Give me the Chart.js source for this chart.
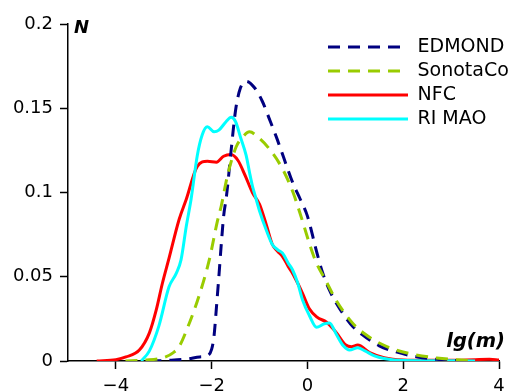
<!DOCTYPE html>
<html>
<head>
<meta charset="utf-8">
<script src="https://cdn.jsdelivr.net/npm/chart.js@4.4.0/dist/chart.umd.min.js"></script>
<style>
  html, body { margin: 0; padding: 0; background: #fff; }
  #wrap { width: 516px; height: 392px; }
</style>
</head>
<body>
<div id="wrap"><canvas id="chart" width="516" height="392"></canvas></div>
<script>
// series (x = lg(m), y = N)
const seriesNames = ['EDMOND', 'SonotaCo', 'NFC', 'RI MAO'];

const edmondX = [-3.3, -2.9, -2.5, -2.25, -2.1, -2.0, -1.95, -1.9, -1.85, -1.8, -1.75, -1.69, -1.59, -1.5, -1.4, -1.28, -1.1, -0.94, -0.8, -0.65, -0.5, -0.31, -0.15, 0.0, 0.19, 0.31, 0.46, 0.6, 0.9, 1.15, 1.5, 1.85, 2.3, 2.7, 3.3];
const edmondY = [0, 0.0004, 0.0012, 0.0024, 0.003, 0.007, 0.015, 0.032, 0.05, 0.069, 0.086, 0.098, 0.126, 0.149, 0.162, 0.166, 0.162, 0.154, 0.144, 0.133, 0.121, 0.106, 0.096, 0.086, 0.065, 0.053, 0.042, 0.0345, 0.022, 0.0155, 0.009, 0.0054, 0.0024, 0.001, 0];

const sonotaX = [-3.8, -3.4, -3.0, -2.8, -2.68, -2.5, -2.26, -2.05, -1.88, -1.8, -1.67, -1.49, -1.35, -1.21, -1.0, -0.8, -0.52, -0.3, -0.17, -0.06, 0.06, 0.19, 0.36, 0.6, 0.94, 1.2, 1.5, 1.85, 2.2, 2.7, 3.5];
const sonotaY = [0, 0.0005, 0.002, 0.005, 0.0085, 0.02, 0.039, 0.06, 0.083, 0.092, 0.11, 0.127, 0.133, 0.136, 0.132, 0.126, 0.114, 0.1, 0.089, 0.079, 0.068, 0.058, 0.049, 0.036, 0.0226, 0.016, 0.0107, 0.0065, 0.004, 0.0018, 0];

const nfcX = [-4.4, -4.0, -3.79, -3.51, -3.3, -3.16, -3.03, -2.89, -2.68, -2.53, -2.3, -2.09, -1.9, -1.75, -1.6, -1.45, -1.3, -1.15, -1.0, -0.85, -0.73, -0.62, -0.52, -0.4, -0.31, -0.2, -0.1, 0.04, 0.2, 0.4, 0.6, 0.8, 0.92, 1.05, 1.3, 1.6, 2.0, 2.5, 3.0, 3.5, 3.8, 4.0];
const nfcY = [0, 0.0008, 0.0024, 0.0065, 0.0167, 0.03, 0.046, 0.061, 0.084, 0.096, 0.1155, 0.1185, 0.118, 0.1215, 0.1225, 0.119, 0.11, 0.1, 0.093, 0.08, 0.069, 0.065, 0.062, 0.056, 0.052, 0.046, 0.04, 0.031, 0.026, 0.023, 0.017, 0.0095, 0.0085, 0.0095, 0.005, 0.002, 0.0006, 0.0004, 0.0004, 0.0008, 0.001, 0.0006];

const rimaoX = [-3.47, -3.3, -3.1, -2.89, -2.74, -2.64, -2.53, -2.43, -2.3, -2.2, -2.09, -1.95, -1.85, -1.7, -1.59, -1.5, -1.4, -1.28, -1.21, -1.15, -1.07, -1.0, -0.85, -0.73, -0.62, -0.52, -0.4, -0.31, -0.2, -0.1, 0.04, 0.19, 0.35, 0.46, 0.6, 0.75, 0.88, 1.05, 1.2, 1.4, 1.6, 2.0, 2.6, 3.5];
const rimaoY = [0, 0.006, 0.021, 0.044, 0.052, 0.06, 0.08, 0.096, 0.122, 0.134, 0.139, 0.136, 0.137, 0.142, 0.1446, 0.142, 0.133, 0.122, 0.112, 0.104, 0.096, 0.089, 0.077, 0.069, 0.066, 0.064, 0.058, 0.054, 0.046, 0.036, 0.027, 0.02, 0.022, 0.0226, 0.016, 0.009, 0.0065, 0.0078, 0.006, 0.003, 0.0015, 0.0003, 0.0002, 0];

const xTicks = [-4, -2, 0, 2, 4];
const xTickLabels = ['\u22124', '\u22122', '0', '2', '4'];
const yTicks = [0, 0.05, 0.1, 0.15, 0.2];
const yTickLabels = ['0', '0.05', '0.1', '0.15', '0.2'];

function toPoints(xs, ys) {
    return xs.map((x, i) => ({ x: x, y: ys[i] }));
}

function lineSet(label, xs, ys, color, dash, order) {
    return {
        label: label,
        data: toPoints(xs, ys),
        borderColor: color,
        backgroundColor: color,
        borderWidth: 3,
        borderDash: dash,
        pointRadius: 0,
        fill: false,
        cubicInterpolationMode: 'monotone',
        order: order
    };
}

// put the legend in the upper right of the plot
const legendPlace = {
    id: 'legendPlace',
    afterLayout(chart) {
        const area = chart.chartArea;
        const lg = chart.legend;
        lg.left = area.right - 176;
        lg.top = area.top + 8.5;
        lg.right = chart.width;
        lg.bottom = area.top + 130;
        lg.width = lg.right - lg.left;
        lg.height = lg.bottom - lg.top;
    }
};

// italic bold axis names, matplotlib style
const axisNames = {
    id: 'axisNames',
    afterDraw(chart) {
        const ctx = chart.ctx;
        const area = chart.chartArea;
        ctx.save();
        ctx.fillStyle = '#000';
        ctx.textBaseline = 'alphabetic';
        ctx.font = 'italic bold 18px "DejaVu Sans"';
        ctx.textAlign = 'left';
        ctx.fillText('N', area.left + 6, area.top + 9);
        ctx.font = 'italic bold 19.5px "DejaVu Sans"';
        ctx.textAlign = 'right';
        ctx.fillText('lg(m)', area.right + 6, area.bottom - 14);
        ctx.restore();
    }
};

const ctx = document.getElementById('chart').getContext('2d');

new Chart(ctx, {
    type: 'line',
    data: {
        datasets: [
            lineSet(seriesNames[0], edmondX, edmondY, '#000080', [12, 8], 1),
            lineSet(seriesNames[1], sonotaX, sonotaY, '#99cc00', [12, 8], 0),
            lineSet(seriesNames[2], nfcX, nfcY, '#ff0000', [], 3),
            lineSet(seriesNames[3], rimaoX, rimaoY, '#00ffff', [], 2)
        ]
    },
    options: {
        responsive: false,
        animation: false,
        layout: {
            padding: { top: 24, right: 17, left: 0, bottom: 0 }
        },
        scales: {
            x: {
                type: 'linear',
                min: -5,
                max: 4,
                afterBuildTicks: (scale) => {
                    scale.ticks = xTicks.map(v => ({ value: v }));
                },
                afterFit: (scale) => { scale.height = 31; },
                grid: {
                    drawOnChartArea: false,
                    drawTicks: true,
                    tickLength: 8,
                    tickColor: '#000',
                    tickWidth: 1.5
                },
                border: { display: true, color: '#000', width: 1.5 },
                ticks: {
                    color: '#000',
                    padding: 7,
                    maxRotation: 0,
                    autoSkip: false,
                    font: { family: 'DejaVu Sans', size: 18 },
                    callback: (value) => xTickLabels[xTicks.indexOf(value)]
                }
            },
            y: {
                type: 'linear',
                min: 0,
                max: 0.2,
                afterBuildTicks: (scale) => {
                    scale.ticks = yTicks.map(v => ({ value: v }));
                },
                afterFit: (scale) => { scale.width = 68; },
                grid: {
                    drawOnChartArea: false,
                    drawTicks: true,
                    tickLength: 8,
                    tickColor: '#000',
                    tickWidth: 1.5
                },
                border: { display: true, color: '#000', width: 1.5 },
                ticks: {
                    color: '#000',
                    padding: 7,
                    autoSkip: false,
                    font: { family: 'DejaVu Sans', size: 18 },
                    callback: (value) => yTickLabels[yTicks.indexOf(value)]
                }
            }
        },
        plugins: {
            legend: {
                position: 'chartArea',
                align: 'start',
                labels: {
                    usePointStyle: true,
                    pointStyle: 'line',
                    pointStyleWidth: 80,
                    padding: 5,
                    color: '#000',
                    font: { family: 'DejaVu Sans', size: 19 },
                    sort: (a, b) => a.datasetIndex - b.datasetIndex,
                    generateLabels: (chart) => {
                        const items = Chart.defaults.plugins.legend.labels.generateLabels(chart);
                        items.forEach(item => {
                            item.lineDash = chart.data.datasets[item.datasetIndex].borderDash;
                            item.lineCap = 'butt';
                        });
                        return items;
                    }
                }
            },
            tooltip: { enabled: false }
        }
    },
    plugins: [legendPlace, axisNames]
});
</script>
</body>
</html>
